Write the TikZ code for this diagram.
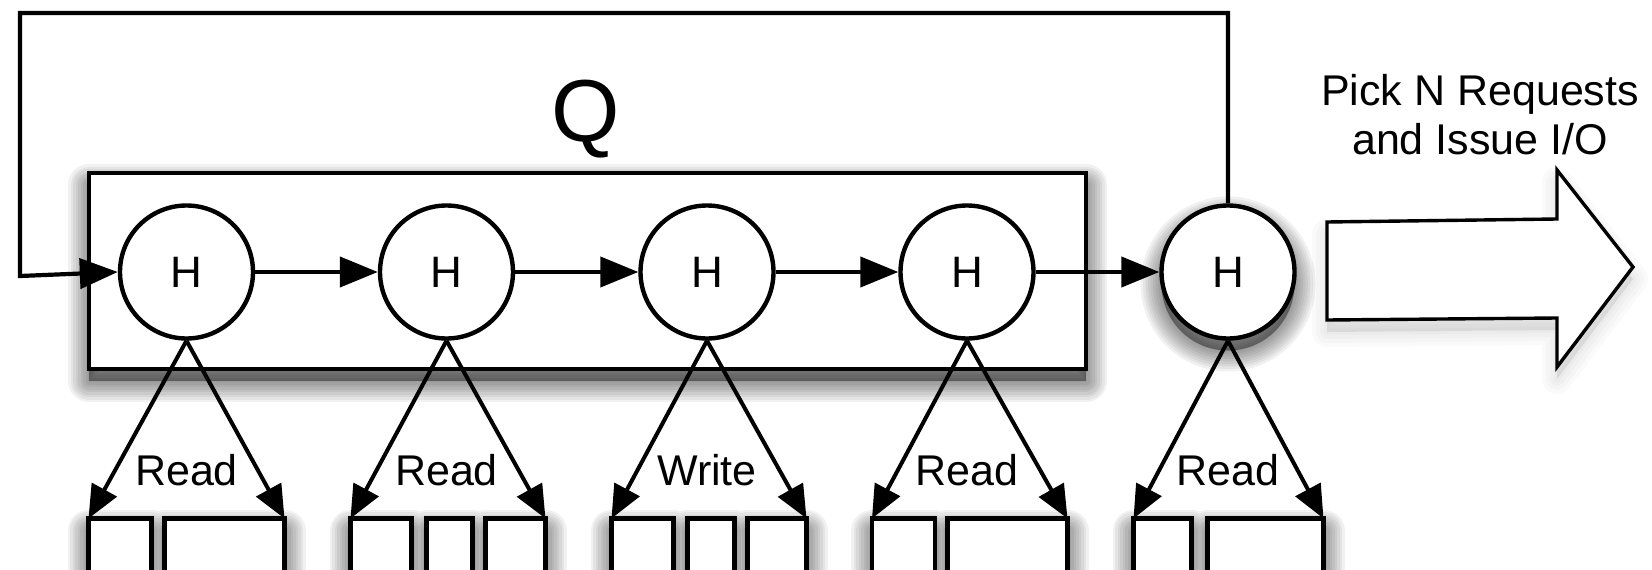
\documentclass[tikz,border=0pt]{standalone}
\usepackage{fontspec}
\setmainfont{Liberation Sans}
\usetikzlibrary{arrows.meta}
\begin{document}
\begin{tikzpicture}[x=1pt,y=-1pt,
  line width=4.4pt,
  arr/.style={-{Triangle[length=38pt,width=30pt]}, line width=4.2pt},
  darr/.style={-{Triangle[length=33pt,width=28pt]}, line width=4pt},
  hnode/.style={circle, draw, fill=white, minimum size=133pt, inner sep=0pt, line width=4.4pt, font=\fontsize{44}{50}\selectfont},
  sbox/.style={draw, fill=white, anchor=north west, inner sep=0pt, outer sep=0pt, minimum height=80pt, line width=4.4pt},
  lbl/.style={font=\fontsize{43}{49}\selectfont, anchor=base, inner sep=0pt},
  shadowpath/.style={fill=black, draw=black, opacity=#1, line join=round}]
\clip (0,0) rectangle (1652,570);
\useasboundingbox (0,0) rectangle (1652,570);
% soft drop shadows
\begin{scope}[transform canvas={yshift=-12pt}]
  \foreach \w in {42,37,32,27,22,17,12,7,2}{
    \draw[shadowpath=0.055, line width=\w pt] (89,173) rectangle (1086,369);
    \draw[shadowpath=0.055, line width=\w pt] (1228,272) circle (66.5);
    \draw[shadowpath=0.055, line width=\w pt] (88.5,518.5) rectangle (151.5,620) (164.5,518.5) rectangle (284.5,620);
    \draw[shadowpath=0.055, line width=\w pt] (350.5,518.5) rectangle (411.5,620) (426.5,518.5) rectangle (472.5,620) (485.5,518.5) rectangle (545.5,620);
    \draw[shadowpath=0.055, line width=\w pt] (611.5,518.5) rectangle (673.5,620) (687.5,518.5) rectangle (734.5,620) (747.5,518.5) rectangle (806.5,620);
    \draw[shadowpath=0.055, line width=\w pt] (872,518.5) rectangle (935,620) (947.5,518.5) rectangle (1067.5,620);
    \draw[shadowpath=0.055, line width=\w pt] (1133.5,518.5) rectangle (1191.5,620) (1207.5,518.5) rectangle (1323.5,620);
  }
  \foreach \w in {30,22,14,6}{
    \draw[shadowpath=0.02, line width=\w pt] (1327,222) -- (1557,219) -- (1557,170) -- (1633,267) -- (1557,367) -- (1557,318) -- (1327,320) -- cycle;
  }
\end{scope}
% queue container
\node[draw, fill=white, inner sep=0pt, outer sep=0pt, minimum width=997pt, minimum height=196pt, line width=4.4pt] (queue) at (587.5,271) {};
\node[font=\fontsize{88}{96}\selectfont, anchor=base, inner sep=0pt] (q) at (586,141) {Q};
% heads
\node[hnode] (h1) at (186.5,272) {H};
\node[hnode] (h2) at (446.5,272) {H};
\node[hnode] (h3) at (707,272) {H};
\node[hnode] (h4) at (967,272) {H};
\node[hnode] (h5) at (1228,272) {H};
% request boxes
\node[sbox, minimum width=63pt] (b1a) at (88.5,518.5) {};
\node[sbox, minimum width=120pt] (b1b) at (164.5,518.5) {};
\node[sbox, minimum width=61pt] (b2a) at (350.5,518.5) {};
\node[sbox, minimum width=46pt] (b2b) at (426.5,518.5) {};
\node[sbox, minimum width=60pt] (b2c) at (485.5,518.5) {};
\node[sbox, minimum width=62pt] (b3a) at (611.5,518.5) {};
\node[sbox, minimum width=47pt] (b3b) at (687.5,518.5) {};
\node[sbox, minimum width=59pt] (b3c) at (747.5,518.5) {};
\node[sbox, minimum width=63pt] (b4a) at (872,518.5) {};
\node[sbox, minimum width=120pt] (b4b) at (947.5,518.5) {};
\node[sbox, minimum width=58pt] (b5a) at (1133.5,518.5) {};
\node[sbox, minimum width=116pt] (b5b) at (1207.5,518.5) {};
% big arrow
\draw[line width=3.4pt, fill=white] (1327,222) -- (1557,219) -- (1557,170) -- (1633,267) -- (1557,367) -- (1557,318) -- (1327,320) -- cycle;
\node[font=\fontsize{43}{49}\selectfont, align=center, anchor=north, inner sep=0pt] (pick) at (1480,72) {Pick N Requests\\and Issue I/O};
% chain
\draw[arr] (h1) -- (h2);
\draw[arr] (h2) -- (h3);
\draw[arr] (h3) -- (h4);
\draw[arr] (h4) -- (h5);
% loop back
\coordinate (ltr) at (1228,13);
\coordinate (ltl) at (20,13);
\coordinate (lbl) at (20,276);
\draw[arr, line join=miter] (h5.north) -- (ltr) -- (ltl) -- (lbl) -- (h1.west);
% fan-outs
\draw[darr] (h1.south) -- (b1a.north west);
\draw[darr] (h1.south) -- (b1b.north east);
\draw[darr] (h2.south) -- (b2a.north west);
\draw[darr] (h2.south) -- (b2c.north east);
\draw[darr] (h3.south) -- (b3a.north west);
\draw[darr] (h3.south) -- (b3c.north east);
\draw[darr] (h4.south) -- (b4a.north west);
\draw[darr] (h4.south) -- (b4b.north east);
\draw[darr] (h5.south) -- (b5a.north west);
\draw[darr] (h5.south) -- (b5b.north east);
% labels
\node[lbl] (r1) at (186.5,485) {Read};
\node[lbl] (r2) at (446.5,485) {Read};
\node[lbl] (r3) at (707,485) {Write};
\node[lbl] (r4) at (967,485) {Read};
\node[lbl] (r5) at (1228,485) {Read};
\end{tikzpicture}
\end{document}
